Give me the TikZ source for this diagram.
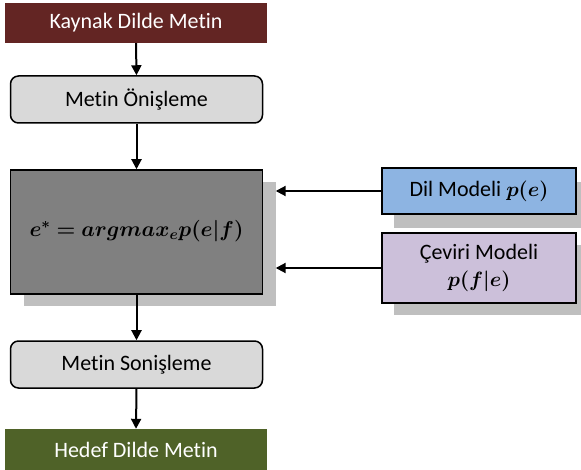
\documentclass[tikz,border=0pt]{standalone}
\usepackage{graphicx}
\usepackage{fontspec}
\usepackage{bm}
\setmainfont{Carlito}[Ligatures=NoCommon]
\usetikzlibrary{arrows.meta}
\definecolor{srcred}{HTML}{632523}
\definecolor{tgtgreen}{HTML}{4F6228}
\definecolor{stepgray}{HTML}{D9D9D9}
\definecolor{coregray}{HTML}{808080}
\definecolor{shadowgray}{HTML}{BFBFBF}
\definecolor{lmblue}{HTML}{8DB4E2}
\definecolor{tmlilac}{HTML}{CCC0DA}
\tikzset{
  flow/.style={line width=2pt,-{Triangle[length=10pt,width=10pt]}},
  endbox/.style={rectangle,inner sep=0pt,minimum width=262pt,text=white,font=\fontsize{22}{26}\selectfont},
  stepbox/.style={rectangle,rounded corners=8pt,draw=black,line width=1.5pt,fill=stepgray,
    minimum width=252pt,minimum height=47pt,inner sep=0pt,font=\fontsize{22}{26}\selectfont},
  modelbox/.style={rectangle,draw=black,line width=1.5pt,minimum width=194pt,inner sep=0pt,
    align=center,font=\fontsize{22}{27}\selectfont},
  shade/.style={rectangle,fill=shadowgray,inner sep=0pt}
}
\begin{document}
\begin{tikzpicture}[x=1pt,y=-1pt]
\useasboundingbox (0,0) rectangle (581,470);
% source and target text boxes
\node[endbox,fill=srcred,minimum height=40pt] (src) at (136,23) {Kaynak Dilde Metin};
\node[stepbox] (pre) at (136.5,99.5) {Metin Önişleme};
% decoder with its drop shadow
\node[shade,minimum width=252pt,minimum height=124pt] (coresh) at (149.5,244) {};
\node[rectangle,draw=black,line width=1.5pt,fill=coregray,minimum width=252pt,minimum height=124pt,
  inner sep=0pt,font=\huge] (core) at (136.5,232)
  {\raisebox{7pt}{\resizebox{214pt}{!}{$\bm{e^{*}=argmax_{e}p(e|f)}$}}};
\node[stepbox] (post) at (136.5,364.5) {Metin Sonişleme};
\node[endbox,fill=tgtgreen,minimum height=42pt] (tgt) at (136,450) {Hedef Dilde Metin};
% language model and translation model
\node[shade,minimum width=194pt,minimum height=46pt] (lmsh) at (491,205) {};
\node[modelbox,fill=lmblue,minimum height=46pt] (lm) at (479,191) {Dil Modeli $\bm{p(e)}$};
\node[shade,minimum width=194pt,minimum height=70pt] (tmsh) at (491,280) {};
\node[modelbox,fill=tmlilac,minimum height=70pt] (tm) at (479,268) {Çeviri Modeli\\$\bm{p(f|e)}$};
% connectors
\draw[flow] (src.south) -- (pre.north);
\draw[flow] (pre.south) -- (core.north);
\draw[flow] (core.south) -- (post.north);
\draw[flow] (post.south) -- (tgt.north);
\draw[flow] (lm.west) -- (lm.west -| coresh.east);
\draw[flow] (tm.west) -- (tm.west -| coresh.east);
\end{tikzpicture}
\end{document}
